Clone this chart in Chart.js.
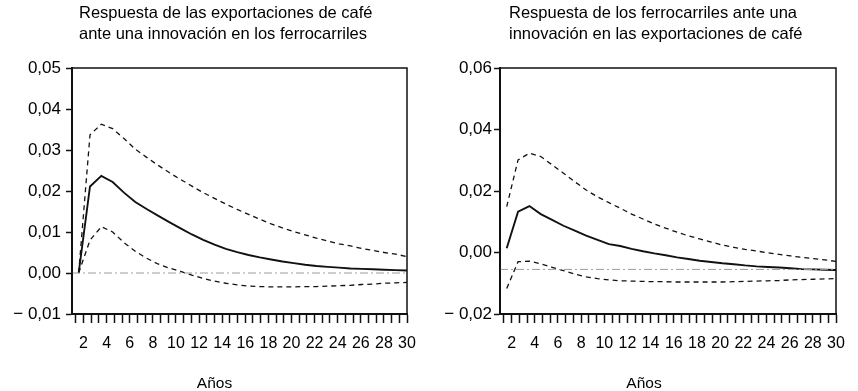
<!DOCTYPE html>
<html>
<head>
<meta charset="utf-8">
<script src="https://cdn.jsdelivr.net/npm/chart.js@4"></script>
<style>
  body { margin: 0; background: #fff; width: 858px; height: 391px; overflow: hidden; position: relative;
         font-family: "Liberation Sans", Arial, sans-serif; color: #000; }
  .panel { position: absolute; top: 0; height: 391px; }
  .title { position: absolute; top: 2px; font-size: 16.5px; line-height: 21px; white-space: nowrap; }
  .xlabel { position: absolute; top: 374px; left: 0; right: 0; text-align: center; font-size: 15.5px; line-height: 18px; }
  canvas { position: absolute; left: 0; top: 0; }
</style>
</head>
<body>
<div class="panel" style="left:0;width:429px">
  <canvas id="chartLeft" width="429" height="391"></canvas>
  <div class="title" style="left:79px">Respuesta de las exportaciones de café<br>ante una innovación en los ferrocarriles</div>
  <div class="xlabel">Años</div>
</div>
<div class="panel" style="left:430px;width:428px">
  <canvas id="chartRight" width="428" height="391"></canvas>
  <div class="title" style="left:79px">Respuesta de los ferrocarriles ante una<br>innovación en las exportaciones de café</div>
  <div class="xlabel">Años</div>
</div>
<script>
// periods (years) of the impulse response
const periods = [1, 2, 3, 4, 5, 6, 7, 8, 9, 10, 11, 12, 13, 14, 15, 16, 17, 18, 19, 20,
                 21, 22, 23, 24, 25, 26, 27, 28, 29, 30];
const xTickLabels = [2, 4, 6, 8, 10, 12, 14, 16, 18, 20, 22, 24, 26, 28, 30];

// left: coffee exports response to a railway innovation
const leftResponse = [0, 0.0211, 0.0237, 0.0222, 0.0196, 0.0173, 0.0156, 0.0140, 0.0124, 0.0109,
                      0.0094, 0.0081, 0.0069, 0.0059, 0.0051, 0.0044, 0.0038, 0.0033, 0.0028, 0.0024,
                      0.0020, 0.0017, 0.0015, 0.0013, 0.0011, 0.0010, 0.0009, 0.0008, 0.0007, 0.0006];
const leftUpper = [0, 0.0337, 0.0363, 0.0352, 0.0328, 0.0302, 0.0282, 0.0263, 0.0245, 0.0228,
                   0.0212, 0.0196, 0.0182, 0.0168, 0.0155, 0.0143, 0.0131, 0.0120, 0.0110, 0.0101,
                   0.0093, 0.0085, 0.0078, 0.0071, 0.0066, 0.0060, 0.0055, 0.0050, 0.0046, 0.0040];
const leftLower = [0, 0.0080, 0.0113, 0.0100, 0.0074, 0.0053, 0.0036, 0.0022, 0.0012, 0.0004,
                   -0.0005, -0.0013, -0.0020, -0.0025, -0.0029, -0.0032, -0.0033, -0.0034, -0.0034, -0.0034,
                   -0.0033, -0.0033, -0.0032, -0.0031, -0.0030, -0.0028, -0.0027, -0.0025, -0.0024, -0.0023];
const leftRefLevel = 0;
const leftYTicks = [-0.01, 0, 0.01, 0.02, 0.03, 0.04, 0.05];
const leftYLabels = ['\u2212 0,01', '0,00', '0,01', '0,02', '0,03', '0,04', '0,05'];

// right: railway response to a coffee exports innovation
const rightResponse = [0.0014, 0.0133, 0.0151, 0.0125, 0.0106, 0.0087, 0.0071, 0.0055, 0.0041, 0.0027,
                       0.0021, 0.0012, 0.0004, -0.0003, -0.0009, -0.0016, -0.0021, -0.0027, -0.0031, -0.0035,
                       -0.0038, -0.0042, -0.0045, -0.0047, -0.0049, -0.0051, -0.0054, -0.0055, -0.0056, -0.0057];
const rightUpper = [0.0149, 0.0301, 0.0323, 0.0312, 0.0285, 0.0258, 0.0230, 0.0203, 0.0181, 0.0162,
                    0.0144, 0.0125, 0.0109, 0.0093, 0.0079, 0.0066, 0.0054, 0.0044, 0.0034, 0.0024,
                    0.0017, 0.0010, 0.0005, -0.0001, -0.0006, -0.0011, -0.0016, -0.0020, -0.0024, -0.0029];
const rightLower = [-0.0117, -0.0030, -0.0028, -0.0037, -0.0048, -0.0059, -0.0070, -0.0079, -0.0085, -0.0089,
                    -0.0092, -0.0093, -0.0094, -0.0095, -0.0095, -0.0096, -0.0096, -0.0096, -0.0096, -0.0096,
                    -0.0095, -0.0094, -0.0093, -0.0092, -0.0091, -0.0089, -0.0088, -0.0087, -0.0086, -0.0085];
const rightRefLevel = -0.0055;
const rightYTicks = [-0.02, 0, 0.02, 0.04, 0.06];
const rightYLabels = ['\u2212 0,02', '0,00', '0,02', '0,04', '0,06'];

Chart.defaults.font.family = '"Liberation Sans", Arial, sans-serif';
Chart.defaults.color = '#000';

const framePlugin = {
    id: 'frame',
    afterDraw(chart) {
        const { ctx, chartArea: a } = chart;
        ctx.save();
        ctx.strokeStyle = '#111';
        ctx.lineWidth = 1.5;
        ctx.strokeRect(a.left, a.top, a.width, a.height);
        ctx.restore();
    }
};

function toPoints(values) {
    return periods.map((p, i) => ({ x: p, y: values[i] }));
}

function makeChart(id, opts) {
    const ctx = document.getElementById(id).getContext('2d');
    const first = periods[0];
    const last = periods[periods.length - 1];
    return new Chart(ctx, {
        type: 'line',
        data: {
            datasets: [
                {
                    data: [{ x: first, y: opts.refLevel }, { x: last, y: opts.refLevel }],
                    xAxisID: 'x',
                    borderColor: '#9a9a9a',
                    borderWidth: 1,
                    borderDash: [8, 3, 2, 3]
                },
                {
                    data: toPoints(opts.upper),
                    xAxisID: 'xd',
                    borderColor: '#111',
                    borderWidth: 1.3,
                    borderDash: [5, 4]
                },
                {
                    data: toPoints(opts.lower),
                    xAxisID: 'xd',
                    borderColor: '#111',
                    borderWidth: 1.3,
                    borderDash: [5, 4]
                },
                {
                    data: toPoints(opts.response),
                    xAxisID: 'xd',
                    borderColor: '#111',
                    borderWidth: 1.9
                }
            ]
        },
        options: {
            responsive: false,
            animation: false,
            events: [],
            layout: { padding: { left: 0, right: opts.padRight, top: 68, bottom: 17 } },
            elements: { point: { radius: 0 }, line: { tension: 0, fill: false } },
            plugins: { legend: { display: false }, tooltip: { enabled: false } },
            scales: {
                x: {
                    type: 'linear',
                    min: first,
                    max: last,
                    // minor marks every 2/3 year, labels on even years
                    afterBuildTicks: scale => {
                        const ticks = [];
                        xTickLabels.forEach(l => {
                            [l - 4 / 3, l - 2 / 3, l].forEach(v => { if (v > first) ticks.push({ value: v }); });
                        });
                        scale.ticks = ticks;
                    },
                    afterFit: scale => { scale.height = 60; },
                    ticks: {
                        autoSkip: false,
                        maxRotation: 0,
                        padding: 11,
                        font: { size: 16 },
                        callback: v => xTickLabels.includes(v) ? String(v) : ''
                    },
                    grid: { drawOnChartArea: false, tickLength: 9, tickColor: '#111', tickWidth: 1.5 },
                    border: { color: '#111', width: 2 }
                },
                xd: {
                    type: 'linear',
                    display: false,
                    min: opts.dataMin,
                    max: last
                },
                y: {
                    min: opts.yTicks[0],
                    max: opts.yTicks[opts.yTicks.length - 1],
                    afterBuildTicks: scale => { scale.ticks = opts.yTicks.map(v => ({ value: v })); },
                    afterFit: scale => { scale.width = opts.axisWidth; },
                    ticks: {
                        padding: opts.labelPad,
                        font: { size: 17 },
                        callback: (v, i) => opts.yLabels[i]
                    },
                    grid: { drawOnChartArea: false, tickLength: 6, tickColor: '#111', tickWidth: 1.5 },
                    border: { color: '#111', width: 2 }
                }
            }
        },
        plugins: [framePlugin]
    });
}

makeChart('chartLeft', {
    response: leftResponse, upper: leftUpper, lower: leftLower, refLevel: leftRefLevel,
    yTicks: leftYTicks, yLabels: leftYLabels,
    axisWidth: 72, padRight: 22, labelPad: 5, dataMin: 0.41
});

makeChart('chartRight', {
    response: rightResponse, upper: rightUpper, lower: rightLower, refLevel: rightRefLevel,
    yTicks: rightYTicks, yLabels: rightYLabels,
    axisWidth: 70, padRight: 22, labelPad: 2, dataMin: 0.41
});
</script>
</body>
</html>
